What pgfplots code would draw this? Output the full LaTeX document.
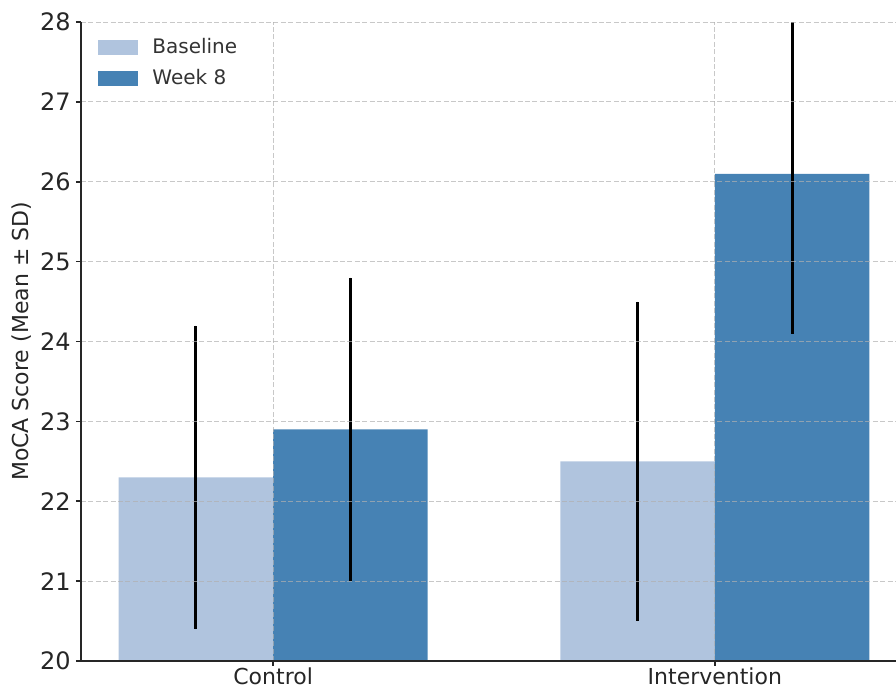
\documentclass[border=0pt]{standalone}
\usepackage{pgfplots}
\pgfplotsset{compat=1.18}
\usepackage{fontspec}
\setmainfont{DejaVu Sans}
\definecolor{baseline}{HTML}{B0C4DE}
\definecolor{week}{HTML}{4682B4}
\definecolor{spine}{HTML}{262626}
\begin{document}
\begin{tikzpicture}
\useasboundingbox (-40.5pt,-14.5pt) rectangle (407.5pt,330.5pt);
\begin{axis}[
  at={(0,0)}, anchor=south west,
  scale only axis,
  width=413pt, height=319.5pt,
  xmin=-0.435, xmax=1.435,
  ymin=20, ymax=28,
  ytick={20,21,...,28},
  xtick={0,1},
  xticklabels={Control,Intervention},
  axis lines=left,
  axis line style={-, line width=1pt, spine},
  tick style={line width=0.8pt, spine},
  tick align=outside,
  major tick length=2.5pt,
  /pgf/number format/assume math mode=true,
  yticklabel style={font=\fontsize{12}{14}\selectfont, text=black!85, inner sep=1pt, xshift=-1.5pt},
  xticklabel style={font=\fontsize{11}{13}\selectfont, text=black!85, inner sep=1pt, yshift=0.5pt},
  every axis y label/.style={at={(axis description cs:0,0.5)}, xshift=-29.5pt, rotate=90, anchor=center, font=\fontsize{11}{13}\selectfont, text=black!85},
  ylabel={MoCA Score (Mean ± SD)},
  grid=major,
  major grid style={dash pattern=on 2.5pt off 1.2pt, line width=0.5pt, color=black!31, opacity=0.7},
  axis on top,
  bar width=0.35,
  legend style={at={(axis description cs:0.0,1.0)}, anchor=north west, xshift=5.5pt, yshift=-4pt, draw=none, fill=none, font=\fontsize{10}{12}\selectfont, text=black!80, row sep=2.3pt, column sep=5pt, cells={anchor=west}},
  legend image code/.code={\fill[#1] (0pt,-3.75pt) rectangle (20pt,3.75pt);},
  clip=true,
]
\addplot[ybar, bar shift=0pt, draw=none, fill=baseline,
  error bars/.cd, y dir=both, y explicit, error mark=none,
  error bar style={line width=1.5pt, black}]
  coordinates {(-0.175,22.3) +- (0,1.9) (0.825,22.5) +- (0,2.0)};
\addlegendentry{Baseline}
\addplot[ybar, bar shift=0pt, draw=none, fill=week,
  error bars/.cd, y dir=both, y explicit, error mark=none,
  error bar style={line width=1.5pt, black}]
  coordinates {(0.175,22.9) +- (0,1.9) (1.175,26.1) +- (0,2.0)};
\addlegendentry{Week 8}
\end{axis}
\end{tikzpicture}
\end{document}
